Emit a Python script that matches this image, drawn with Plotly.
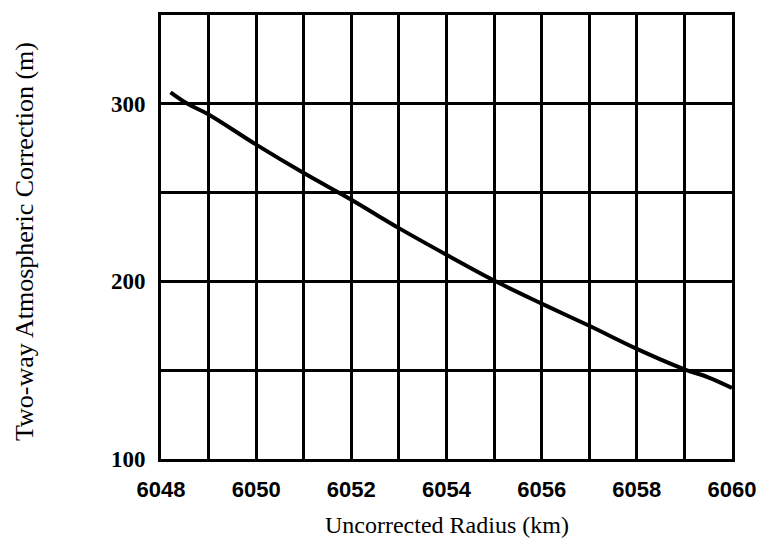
import plotly.graph_objects as go

# Data
radius_km = [6048.2, 6048.56, 6049, 6050, 6051, 6052, 6052.5, 6053, 6054, 6055, 6056, 6057, 6058, 6059, 6059.5, 6060]
correction_m = [306.5, 300, 294, 277, 261, 246, 238, 230, 215, 200.5, 187.5, 175, 162, 150.5, 146, 140]

x_ticks = list(range(6048, 6061))
x_labels = [str(v) if (v - 6048) % 2 == 0 else "" for v in x_ticks]
y_ticks = [100, 150, 200, 250, 300, 350]
y_labels = ["100", "", "200", "", "300", ""]

fig = go.Figure()
fig.add_trace(go.Scatter(x=radius_km, y=correction_m, mode="lines",
                         line=dict(color="black", width=4, shape="spline"),
                         showlegend=False))

fig.update_xaxes(range=[6048, 6060], tickvals=x_ticks, ticktext=x_labels,
                 showgrid=True, gridcolor="black", gridwidth=2.5,
                 showline=True, linecolor="black", linewidth=3, mirror=True,
                 ticks="", ticklabelstandoff=9,
                 tickfont=dict(family="Liberation Sans", size=22, color="black", weight="bold"),
                 zeroline=False)
fig.update_yaxes(range=[100, 350], tickvals=y_ticks, ticktext=y_labels,
                 showgrid=True, gridcolor="black", gridwidth=2.5,
                 showline=True, linecolor="black", linewidth=3, mirror=True,
                 ticks="", ticklabelstandoff=8,
                 tickfont=dict(family="Liberation Serif", size=23, color="black", weight="bold"),
                 zeroline=False)

fig.add_annotation(text="Uncorrected Radius (km)", xref="paper", yref="paper",
                   x=0.5, y=-0.148, xanchor="center", yanchor="middle",
                   showarrow=False, font=dict(family="Liberation Serif", size=24, color="black"))
fig.add_annotation(text="Two-way Atmospheric Correction (m)", xref="paper", yref="paper",
                   x=-0.239, y=0.49, xanchor="center", yanchor="middle", textangle=-90,
                   showarrow=False, font=dict(family="Liberation Serif", size=26, color="black"))

fig.update_layout(width=768, height=558, autosize=False,
                  margin=dict(l=161, r=26, t=12, b=99),
                  paper_bgcolor="white", plot_bgcolor="white")

fig.write_html("out.html", default_width="768px", default_height="558px",
               config={"displayModeBar": False, "responsive": False})

with open("out.html", "r", encoding="utf-8") as f:
    html = f.read()
html = html.replace("<body>", '<body style="margin:0;overflow:hidden">', 1)
with open("out.html", "w", encoding="utf-8") as f:
    f.write(html)
